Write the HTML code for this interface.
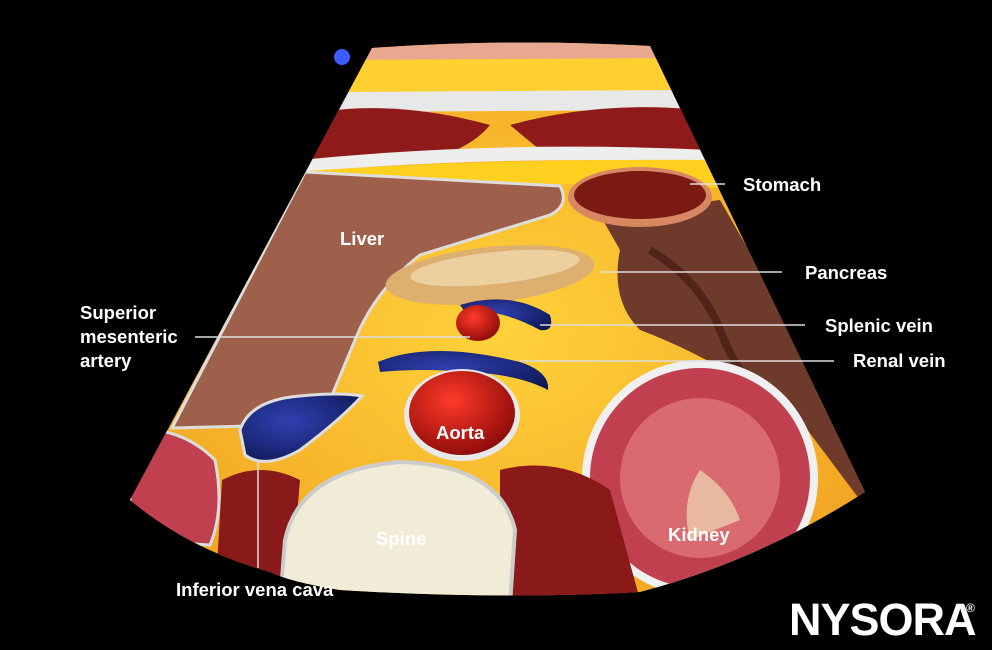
<!DOCTYPE html>
<html><head><style>
html,body{margin:0;padding:0;background:#000;}
svg{display:block}
text{font-family:"Liberation Sans",sans-serif;font-weight:bold;fill:#fff;}
</style></head><body>
<svg width="992" height="650" viewBox="0 0 992 650" xmlns="http://www.w3.org/2000/svg">
<defs>
<clipPath id="fan"><path d="M372,48 Q510,38 650,46 L865,492 Q760,560 640,592 Q500,600 340,590 Q290,582 270,572 Q190,550 130,500 Z"/></clipPath>
<radialGradient id="fat" cx="50%" cy="50%" r="60%"><stop offset="0" stop-color="#ffd23a"/><stop offset="1" stop-color="#f0a020"/></radialGradient>
<radialGradient id="aorta" cx="40%" cy="35%" r="70%"><stop offset="0" stop-color="#ff3a2a"/><stop offset="1" stop-color="#8a0a08"/></radialGradient>
<radialGradient id="blue" cx="40%" cy="40%" r="70%"><stop offset="0" stop-color="#3040b0"/><stop offset="1" stop-color="#101a5a"/></radialGradient>
</defs>
<rect width="992" height="650" fill="#000"/>
<circle cx="342" cy="57" r="8" fill="#3d5cff"/>
<g clip-path="url(#fan)">
<rect x="100" y="30" width="800" height="600" fill="url(#fat)"/>
<rect x="300" y="40" width="400" height="20" fill="#e8a890"/>
<path d="M340,60 L680,58 L690,92 L330,95 Z" fill="#ffd030"/>
<path d="M330,92 L690,90 L690,110 L330,112 Z" fill="#e8e8e8"/>
<path d="M320,112 Q400,100 490,125 Q470,150 420,162 L300,160 Z" fill="#8e1a1a"/>
<path d="M510,125 Q600,100 700,110 L705,150 Q620,160 540,150 Z" fill="#8e1a1a"/>
<path d="M300,160 Q500,140 710,150 L715,162 Q500,155 300,172 Z" fill="#eee"/>
<path d="M290,172 Q500,158 720,160 L720,188 Q500,180 280,185 Z" fill="#ffd020"/>
<path d="M600,215 L720,200 L880,480 L860,500 L800,420 Q720,360 640,330 Q610,300 620,250 Z" fill="#6e3a2c"/>
<path d="M650,250 Q700,280 720,330 Q740,380 760,390" stroke="#502418" stroke-width="8" fill="none"/>
<ellipse cx="640" cy="197" rx="72" ry="30" fill="#d88860"/>
<ellipse cx="640" cy="195" rx="66" ry="24" fill="#7a1a12"/>
<path d="M305,172 L560,186 Q570,205 550,215 L420,255 Q375,290 355,340 L330,400 L290,425 L172,428 Z" fill="#9e604a" stroke="#ddd" stroke-width="3"/>
<ellipse cx="490" cy="275" rx="105" ry="28" fill="#ddb070" transform="rotate(-6 490 275)"/>
<ellipse cx="495" cy="268" rx="85" ry="16" fill="#edd0a0" transform="rotate(-6 495 268)"/>
<path d="M460,305 Q510,290 550,315 Q555,332 540,330 Q500,308 465,312 Z" fill="url(#blue)"/>
<ellipse cx="478" cy="323" rx="22" ry="18" fill="url(#aorta)"/>
<path d="M378,362 Q430,340 520,362 Q550,372 548,390 Q520,375 470,372 Q420,368 380,372 Z" fill="url(#blue)"/>
<ellipse cx="462" cy="415" rx="58" ry="46" fill="#e8e8e8"/>
<ellipse cx="462" cy="413" rx="53" ry="42" fill="url(#aorta)"/>
<path d="M240,430 Q250,400 300,396 Q340,392 362,396 Q340,420 300,450 Q265,470 245,455 Z" fill="url(#blue)" stroke="#ddd" stroke-width="3"/>
<circle cx="700" cy="478" r="118" fill="#f0f0f0"/>
<circle cx="700" cy="478" r="110" fill="#c04050"/>
<circle cx="700" cy="478" r="80" fill="#d86a70"/>
<path d="M700,470 Q680,500 690,540 L740,520 Q730,490 700,470 Z" fill="#e8b8a0"/>
<path d="M130,430 Q180,425 215,460 Q225,510 210,545 L130,540 Z" fill="#c04050" stroke="#ddd" stroke-width="3"/>
<path d="M222,480 Q260,460 300,480 L290,600 L215,600 Z" fill="#8a1a1a"/>
<path d="M500,470 Q560,455 610,490 L640,600 L500,600 Z" fill="#8a1a1a"/>
<path d="M285,540 Q300,470 400,462 Q500,465 515,530 L510,605 L280,605 Z" fill="#f0ecd8" stroke="#ccc" stroke-width="4"/>
</g>
<g stroke="#ddd" stroke-width="1.5">
<line x1="690" y1="184" x2="725" y2="184"/>
<line x1="600" y1="272" x2="782" y2="272"/>
<line x1="540" y1="325" x2="805" y2="325"/>
<line x1="520" y1="361" x2="834" y2="361"/>
<line x1="195" y1="337" x2="470" y2="337"/>
<line x1="258" y1="460" x2="258" y2="568"/>
</g>
<g font-size="18.5">
<text x="743" y="191">Stomach</text>
<text x="805" y="279">Pancreas</text>
<text x="825" y="332">Splenic vein</text>
<text x="853" y="367">Renal vein</text>
<text x="80" y="319">Superior</text>
<text x="80" y="343">mesenteric</text>
<text x="80" y="367">artery</text>
<text x="340" y="245">Liver</text>
<text x="436" y="439">Aorta</text>
<text x="376" y="545">Spine</text>
<text x="668" y="541">Kidney</text>
<text x="176" y="596">Inferior vena cava</text>
</g>
<text x="789" y="635" font-size="45" style="letter-spacing:-1px">NYSORA</text>
<text x="966" y="612" font-size="12">®</text>
</svg>
</body></html>
